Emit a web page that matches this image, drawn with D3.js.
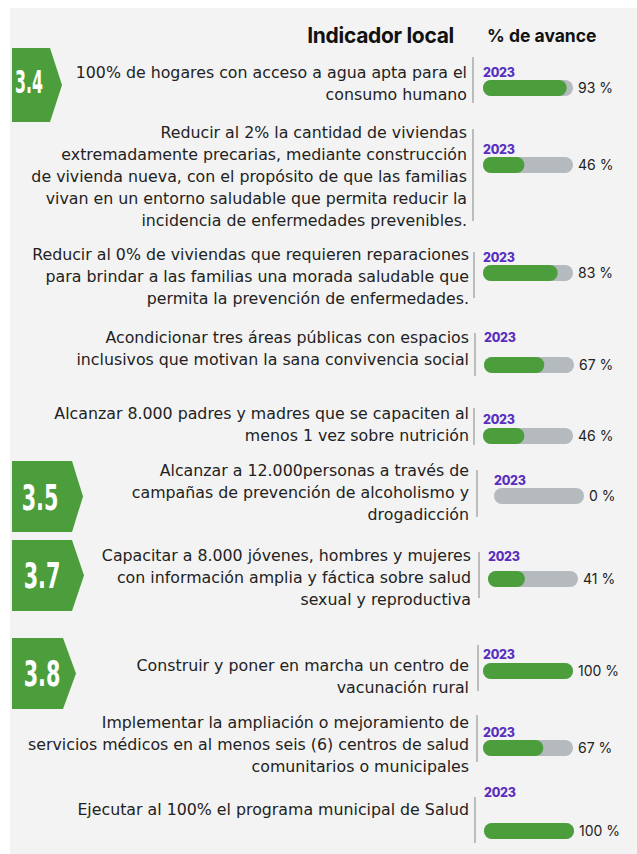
<!DOCTYPE html>
<html><head><meta charset="utf-8">
<script src="https://cdn.jsdelivr.net/npm/d3@7/dist/d3.min.js"></script>
<style>
html,body{margin:0;padding:0;background:#fff;}
svg{display:block;}
</style></head>
<body>
<svg id="chart" width="637" height="854"></svg>
<script>
// ---------- DATA ----------
const indicators = [
  ["100% de hogares con acceso a agua apta para el", "consumo humano"],
  ["Reducir al 2% la cantidad de viviendas", "extremadamente precarias, mediante construcción", "de vivienda nueva, con el propósito de que las familias", "vivan en un entorno saludable que permita reducir la", "incidencia de enfermedades prevenibles."],
  ["Reducir al 0% de viviendas que requieren reparaciones", "para brindar a las familias una morada saludable que", "permita la prevención de enfermedades."],
  ["Acondicionar tres áreas públicas con espacios", "inclusivos que motivan la sana convivencia social"],
  ["Alcanzar 8.000 padres y madres que se capaciten al", "menos 1 vez sobre nutrición"],
  ["Alcanzar a 12.000personas a través de", "campañas de prevención de alcoholismo y", "drogadicción"],
  ["Capacitar a 8.000 jóvenes, hombres y mujeres", "con información amplia y fáctica sobre salud", "sexual y reproductiva"],
  ["Construir y poner en marcha un centro de", "vacunación rural"],
  ["Implementar la ampliación o mejoramiento de", "servicios médicos en al menos seis (6) centros de salud", "comunitarios o municipales"],
  ["Ejecutar al 100% el programa municipal de Salud"]
];
const progress = [93, 46, 83, 67, 46, 0, 41, 100, 67, 100];
const years = ["2023","2023","2023","2023","2023","2023","2023","2023","2023","2023"];
const targets = ["3.4", "3.5", "3.7", "3.8"];
const headers = ["Indicador local", "% de avance"];

// ---------- LAYOUT (not data) ----------
const rowLayout = [
  {tb:78,  s0:57,  s1:103, sx:473, yb:77,  bt:80,  bx:483, tr:467},
  {tb:138, s0:129, s1:221, sx:473, yb:154, bt:157, bx:483, tr:467},
  {tb:260, s0:252, s1:298, sx:474, yb:262, bt:265, bx:483, tr:469},
  {tb:343, s0:333, s1:376, sx:475, yb:342, bt:357, bx:484, tr:469},
  {tb:419, s0:408, s1:445, sx:474, yb:424, bt:428, bx:483, tr:469},
  {tb:476, s0:470, s1:517, sx:477, yb:485, bt:488, bx:494, tr:469},
  {tb:561, s0:552, s1:598, sx:479, yb:561, bt:571, bx:488, tr:471},
  {tb:671, s0:645, s1:691, sx:478, yb:659, bt:663, bx:483, tr:469},
  {tb:728, s0:715, s1:762, sx:477, yb:737, bt:740, bx:483, tr:469},
  {tb:815, s0:797, s1:843, sx:475, yb:797, bt:823, bx:484, tr:469}
];
const badgeLayout = [
  {x0:12, y0:48,  y1:122, xr:50, xt:62, tx:29, ty:93,  fs:32, sx:0.55},
  {x0:12, y0:461, y1:532, xr:72, xt:83, tx:40, ty:510, fs:36, sx:0.64},
  {x0:12, y0:540, y1:611, xr:72, xt:84, tx:42, ty:588, fs:36, sx:0.64},
  {x0:12, y0:638, y1:709, xr:63, xt:76, tx:42, ty:686, fs:36, sx:0.64}
];

const GREEN = "#4b9e3b", GRAY = "#b4babe", PURPLE = "#5a2fbf";
const barW = 90, barH = 16, lineH = 22;

const svg = d3.select("#chart");
svg.append("rect").attr("x",10).attr("y",8).attr("width",627).attr("height",846).attr("fill","#f3f3f3");

// headers
svg.append("text").attr("x",454).attr("y",43).attr("text-anchor","end")
  .attr("font-family","Inter, 'Liberation Sans', sans-serif").attr("font-weight",700)
  .attr("font-size",21).attr("letter-spacing","-0.3").attr("fill","#111").text(headers[0]);
svg.append("text").attr("x",487).attr("y",42)
  .attr("font-family","Inter, 'Liberation Sans', sans-serif").attr("font-weight",700)
  .attr("font-size",17.5).attr("letter-spacing","0").attr("fill","#111").text(headers[1]);

// badges
const badges = svg.selectAll("g.badge").data(targets).join("g").attr("class","badge");
badges.append("path").attr("fill", GREEN).attr("d", (d,i) => {
  const b = badgeLayout[i], ym = (b.y0+b.y1)/2;
  const p = d3.path();
  p.moveTo(b.x0,b.y0); p.lineTo(b.xr,b.y0); p.lineTo(b.xt,ym); p.lineTo(b.xr,b.y1); p.lineTo(b.x0,b.y1); p.closePath();
  return p.toString();
});
badges.append("text")
  .attr("transform",(d,i)=>`translate(${badgeLayout[i].tx},${badgeLayout[i].ty}) scale(${badgeLayout[i].sx},1)`)
  .attr("text-anchor","middle")
  .attr("font-family","'DejaVu Sans Condensed','DejaVu Sans',sans-serif").attr("font-weight",700)
  .attr("font-size",(d,i)=>badgeLayout[i].fs).attr("fill","#fff").text(d=>d);

// x scale for bars
const x = d3.scaleLinear().domain([0,100]).range([0,barW]);

const rowData = indicators.map((lines,i)=>({lines, value:progress[i], year:years[i], L:rowLayout[i]}));
const rows = svg.selectAll("g.row").data(rowData).join("g").attr("class","row");

// indicator text
rows.append("text")
  .attr("text-anchor","end")
  .attr("font-family","'DejaVu Sans', sans-serif").attr("font-size",15.8)
  .attr("fill","#222")
  .selectAll("tspan").data(d=>d.lines.map((t,j)=>({t,j,L:d.L}))).join("tspan")
  .attr("x",d=>d.L.tr).attr("y",d=>d.L.tb + d.j*lineH).text(d=>d.t);

// separators
rows.append("line")
  .attr("x1",d=>d.L.sx).attr("x2",d=>d.L.sx)
  .attr("y1",d=>d.L.s0).attr("y2",d=>d.L.s1)
  .attr("stroke","#bcbcbc").attr("stroke-width",2);

// year labels
rows.append("text")
  .attr("x",d=>d.L.bx).attr("y",d=>d.L.yb)
  .attr("font-family","Inter, sans-serif").attr("font-weight",800).attr("font-size",12.5)
  .attr("letter-spacing","-0.3")
  .attr("fill",PURPLE).text(d=>d.year);

// bar backgrounds
rows.append("rect")
  .attr("x",d=>d.L.bx).attr("y",d=>d.L.bt)
  .attr("width",x(100)).attr("height",barH).attr("rx",barH/2)
  .attr("fill",GRAY);

// bar values
rows.filter(d=>d.value>0).append("rect")
  .attr("x",d=>d.L.bx).attr("y",d=>d.L.bt)
  .attr("width",d=>x(d.value)).attr("height",barH).attr("rx",barH/2)
  .attr("fill",GREEN);

// value labels
rows.append("text")
  .attr("x",d=>d.L.bx + x(100) + 5).attr("y",d=>d.L.bt + barH/2 + 5)
  .attr("font-family","Inter, sans-serif").attr("font-size",14)
  .attr("fill","#222").text(d=>d.value + " %");
</script>
</body></html>
